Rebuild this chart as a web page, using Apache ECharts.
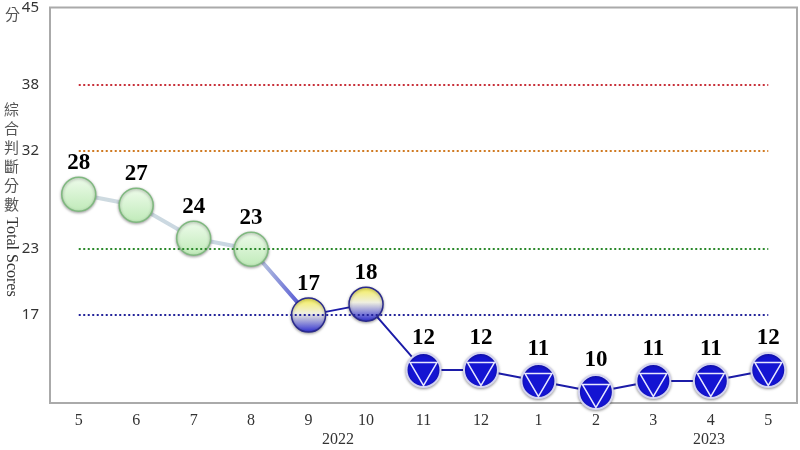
<!DOCTYPE html>
<html>
<head>
<meta charset="utf-8">
<script src="https://cdn.jsdelivr.net/npm/echarts@6/dist/echarts.min.js"></script>
<style>
  html, body { margin: 0; padding: 0; background: #fff; }
  #main { width: 800px; height: 450px; }
</style>
</head>
<body>
<div id="main"></div>
<script>
// months May 2022 .. May 2023
var months = ['5', '6', '7', '8', '9', '10', '11', '12', '1', '2', '3', '4', '5'];
var scores = [28, 27, 24, 23, 17, 18, 12, 12, 11, 10, 11, 11, 12];
var yTicks = [17, 23, 32, 38, 45];
// signal thresholds: red, yellow-red, green, yellow-blue
var thresholds = [38, 32, 23, 17];
var thresholdColors = ['#c8303a', '#d07a22', '#2c8a2c', '#24249a'];

var chart = echarts.init(document.getElementById('main'));

var greenFill = new echarts.graphic.LinearGradient(0, 0, 0, 1, [
  { offset: 0, color: '#effcec' },
  { offset: 1, color: '#bfeab8' }
]);
var yellowBlueFill = new echarts.graphic.LinearGradient(0, 0, 0, 1, [
  { offset: 0, color: '#f6ef4e' },
  { offset: 0.45, color: '#efefe0' },
  { offset: 1, color: '#2a2ad0' }
]);

function styleFor(v) {
  if (v >= 23) return { color: greenFill, borderColor: '#7fb97f', borderWidth: 1.5 };
  if (v >= 17) return { color: yellowBlueFill, borderColor: '#2a2a8c', borderWidth: 1.5 };
  return { color: '#1414d2', borderColor: '#d4d4f0', borderWidth: 2 };
}

var dotData = scores.map(function (v) {
  return { value: v, itemStyle: styleFor(v) };
});

// light line over the green months, dark blue afterwards
var lightIdx = 4;
var lightLine = scores.map(function (v, i) { return i <= lightIdx ? v : null; });
var darkLine = scores.map(function (v, i) { return i >= lightIdx ? v : null; });
var triData = scores.map(function (v) { return v < 17 ? v : null; });

var markLines = thresholds.map(function (t, i) {
  return [
    { coord: [0, t], lineStyle: { color: thresholdColors[i], type: [2, 2.5], width: 2 } },
    { coord: [months.length - 1, t] }
  ];
});

var serif = '"Liberation Serif", "Times New Roman", serif';

chart.setOption({
  animation: false,
  grid: { left: 50, right: 3, top: 5, bottom: 47, show: true, borderColor: '#aaaaaa', borderWidth: 2 },
  xAxis: {
    type: 'category',
    data: months,
    axisLine: { show: false },
    axisTick: { show: false },
    axisLabel: { color: '#333', fontFamily: serif, fontSize: 16, margin: 10 }
  },
  yAxis: {
    type: 'value',
    min: 9,
    max: 45,
    splitLine: { show: false },
    axisLine: { show: false },
    axisTick: { show: false },
    axisLabel: { customValues: yTicks, color: '#333', fontSize: 15, margin: 11, fontFamily: 'Noto Sans' }
  },
  series: [
    {
      type: 'line',
      data: lightLine,
      symbol: 'none',
      lineStyle: {
        width: 4,
        color: new echarts.graphic.LinearGradient(0, 0, 1, 0, [
          { offset: 0, color: '#cfdbe0' },
          { offset: 0.76, color: '#c8d6e2' },
          { offset: 1, color: '#3a3ad0' }
        ])
      },
      markLine: { symbol: 'none', silent: true, label: { show: false }, data: markLines },
      z: 1
    },
    {
      type: 'line',
      data: darkLine,
      symbol: 'none',
      lineStyle: { width: 2, color: '#1c1ca8' },
      z: 1
    },
    {
      type: 'line',
      data: dotData,
      symbol: 'circle',
      symbolSize: 34,
      lineStyle: { width: 0 },
      itemStyle: { shadowBlur: 3, shadowColor: 'rgba(0,0,0,0.35)', shadowOffsetY: 1 },
      label: {
        show: true,
        position: 'top',
        distance: 2,
        color: '#000',
        fontFamily: serif,
        fontWeight: 'bold',
        fontSize: 23
      },
      z: 3
    },
    {
      type: 'line',
      data: triData,
      symbol: 'triangle',
      symbolRotate: 180,
      symbolSize: [27, 23],
      symbolOffset: [0, 4],
      lineStyle: { width: 0 },
      itemStyle: { color: 'rgba(0,0,0,0)', borderColor: '#e8e8ff', borderWidth: 1.5 },
      z: 4
    }
  ],
  graphic: [
    { type: 'text', left: 5, top: 7, style: { text: '分', fill: '#555', font: '15px "Noto Sans CJK TC"' } },
    { type: 'text', left: 4, top: 100, style: { text: '綜\n合\n判\n斷\n分\n數', fill: '#555', font: '15px "Noto Sans CJK TC"', lineHeight: 19 } },
    { type: 'text', x: 11, y: 257, rotation: -Math.PI / 2,
      style: { text: 'Total Scores', fill: '#333', font: '16px ' + serif, align: 'center', verticalAlign: 'middle' } },
    { type: 'text', x: 338, y: 440, style: { text: '2022', fill: '#333', font: '16px ' + serif, align: 'center', verticalAlign: 'middle' } },
    { type: 'text', x: 709, y: 440, style: { text: '2023', fill: '#333', font: '16px ' + serif, align: 'center', verticalAlign: 'middle' } }
  ]
});
</script>
</body>
</html>
